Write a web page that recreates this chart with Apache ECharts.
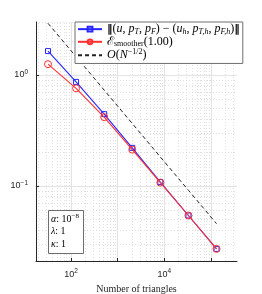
<!DOCTYPE html>
<html><head><meta charset="utf-8">
<script src="https://cdn.jsdelivr.net/npm/echarts@6/dist/echarts.min.js"></script>
<style>html,body{margin:0;padding:0;background:#fff}#c{width:262px;height:294px}</style>
</head><body><div id="c"></div>
<script>
// ---- data ----
var triangles = [32, 128, 512, 2048, 8192, 32768, 131072];
var errorNorm = [1.64, 0.865, 0.443, 0.22, 0.108, 0.054, 0.027];
var smootherEst = [1.25, 0.757, 0.416, 0.212, 0.107, 0.054, 0.027];
var refSlope = [2.92, 1.46, 0.73, 0.365, 0.182, 0.0912, 0.0456];
var xMajorGrid = [100, 1000, 10000, 100000];
var xMinorGrid = [20,30,40,50,60,70,80,90,200,300,400,500,600,700,800,900,
  2000,3000,4000,5000,6000,7000,8000,9000,20000,30000,40000,50000,60000,70000,80000,90000,
  200000,300000];
var yMajorGrid = [0.1, 1];
var yMinorGrid = [0.03,0.04,0.05,0.06,0.07,0.08,0.09,0.2,0.3,0.4,0.5,0.6,0.7,0.8,0.9,2,3];
var xLabelExponents = [2, 4];
var yLabelExponents = [-1, 0];
var legendNames = ['err', 'est', 'ref'];
var legendTexts = {
  err: '{n|‖}({i|u}, {i|p}{s|T}, {i|p}{s|F}) − ({i|u}{s|h}, {i|p}{s|T,h}, {i|p}{s|F,h}){n|‖}',
  est: '{cal|ℰ}{sr|smoother}(1.00)',
  ref: '{i|O}({i|N}{su|−1/2})'
};
var paramText = '{i|α}: 10{su|−8}\n{i|λ}: 1\n{i|κ}: 1';

function pair(xs, ys){ return xs.map(function(x,i){ return [x, ys[i]]; }); }
function logLabel(allowed){
  return function(v){
    var l = Math.log10(v), e = Math.round(l);
    if (Math.abs(l - e) > 1e-6 || allowed.indexOf(e) < 0) return '';
    return '10{sup|' + (e < 0 ? '−' + (-e) : e) + '}';
  };
}
var serif = 'Liberation Serif';
var axisCol = '#262626';
var richScript = {
  i: {fontStyle: 'italic', fontFamily: serif, fontSize: 12},
  n: {fontFamily: 'DejaVu Sans', fontWeight: 'bold', fontSize: 11},
  s: {fontStyle: 'italic', fontFamily: serif, fontSize: 8, padding: [5,0,0,0]},
  sr: {fontFamily: serif, fontSize: 8, padding: [5,0,0,0]},
  su: {fontFamily: serif, fontSize: 8, padding: [0,0,6,0]},
  cal: {fontFamily: 'DejaVu Serif', fontSize: 12}
};
var supRich = {sup: {fontSize: 6.5, fontFamily: 'Liberation Sans', color: axisCol, padding: [0,0,6,0]}};

var chart = echarts.init(document.getElementById('c'), null, {renderer: 'canvas'});
chart.setOption({
  animation: false,
  backgroundColor: '#fff',
  grid: {left: 36, right: 25, top: 22, bottom: 33, containLabel: false, outerBoundsMode: 'none'},
  xAxis: {
    type: 'log', logBase: 10, min: 17.7, max: 360000,
    name: 'Number of triangles', nameLocation: 'middle', nameGap: 19,
    nameTextStyle: {fontFamily: serif, fontSize: 10, color: axisCol},
    axisLine: {lineStyle: {color: axisCol, width: 1}},
    axisTick: {inside: true, length: 3, lineStyle: {color: axisCol}},
    axisLabel: {fontFamily: 'Liberation Sans', fontSize: 9, color: axisCol, margin: 7,
      showMinLabel: false, showMaxLabel: false, formatter: logLabel(xLabelExponents), rich: supRich},
    splitLine: {show: false}
  },
  yAxis: {
    type: 'log', logBase: 10, min: 0.021, max: 3.0,
    name: 'Error', nameLocation: 'middle', nameGap: 25,
    nameTextStyle: {fontFamily: serif, fontSize: 10, color: axisCol},
    axisLine: {show: true, lineStyle: {color: axisCol, width: 1}},
    axisTick: {show: true, inside: true, length: 3, lineStyle: {color: axisCol}},
    axisLabel: {fontFamily: 'Liberation Sans', fontSize: 9, color: axisCol, margin: 8,
      showMinLabel: false, showMaxLabel: false, formatter: logLabel(yLabelExponents), rich: supRich},
    splitLine: {show: false}
  },
  legend: {
    data: [{name: 'err'}, {name: 'est'}, {name: 'ref', itemStyle: {opacity: 0}}],
    orient: 'vertical', left: 75, top: 22,
    padding: [1, 3, 2, 2], itemGap: 0, itemWidth: 24, itemHeight: 6,
    backgroundColor: '#fff', borderColor: '#6e6e6e', borderWidth: 1, borderRadius: 0,
    textStyle: {fontFamily: serif, fontSize: 12, color: '#000', lineHeight: 12.3, rich: richScript},
    formatter: function(n){ return legendTexts[n]; }
  },
  title: {
    text: paramText, left: 48, top: 210,
    padding: [3, 5, 3, 3],
    backgroundColor: '#fff', borderColor: '#6e6e6e', borderWidth: 1,
    textStyle: {fontFamily: serif, fontSize: 10, fontWeight: 'normal', color: '#000', lineHeight: 12.5,
      rich: {i: {fontStyle: 'italic', fontFamily: serif, fontSize: 10},
             su: {fontFamily: serif, fontSize: 7, padding: [0,0,6,0]}}}
  },
  series: [
    {
      name: 'grid', type: 'line', data: [], z: 0, silent: true,
      markLine: {
        silent: true, symbol: 'none', animation: false, z: 0,
        label: {show: false},
        data: [].concat(
          xMinorGrid.map(function(v){ return {xAxis: v, lineStyle: {color: '#e0e0e0', type: [1,2], width: 1}}; }),
          yMinorGrid.map(function(v){ return {yAxis: v, lineStyle: {color: '#e0e0e0', type: [1,2], width: 1}}; }),
          xMajorGrid.map(function(v){ return {xAxis: v, lineStyle: {color: '#e3e3e3', type: 'solid', width: 1}}; }),
          yMajorGrid.map(function(v){ return {yAxis: v, lineStyle: {color: '#e3e3e3', type: 'solid', width: 1}}; })
        )
      }
    },
    {
      name: 'err', type: 'line', z: 3, data: pair(triangles, errorNorm),
      symbol: 'rect', symbolSize: 5,
      lineStyle: {color: '#2626ff', width: 1.1},
      itemStyle: {color: 'rgba(0,0,0,0)', borderColor: '#2626ff', borderWidth: 1}
    },
    {
      name: 'est', type: 'line', z: 4, data: pair(triangles, smootherEst),
      symbol: 'circle', symbolSize: 7,
      lineStyle: {color: '#ff3030', width: 1.1},
      itemStyle: {color: 'rgba(0,0,0,0)', borderColor: '#ff3030', borderWidth: 1}
    },
    {
      name: 'ref', type: 'line', z: 3, data: pair(triangles, refSlope),
      symbol: 'none',
      lineStyle: {color: '#222', width: 1, type: [4, 3]},
      itemStyle: {color: '#222'}
    }
  ]
});
</script></body></html>
